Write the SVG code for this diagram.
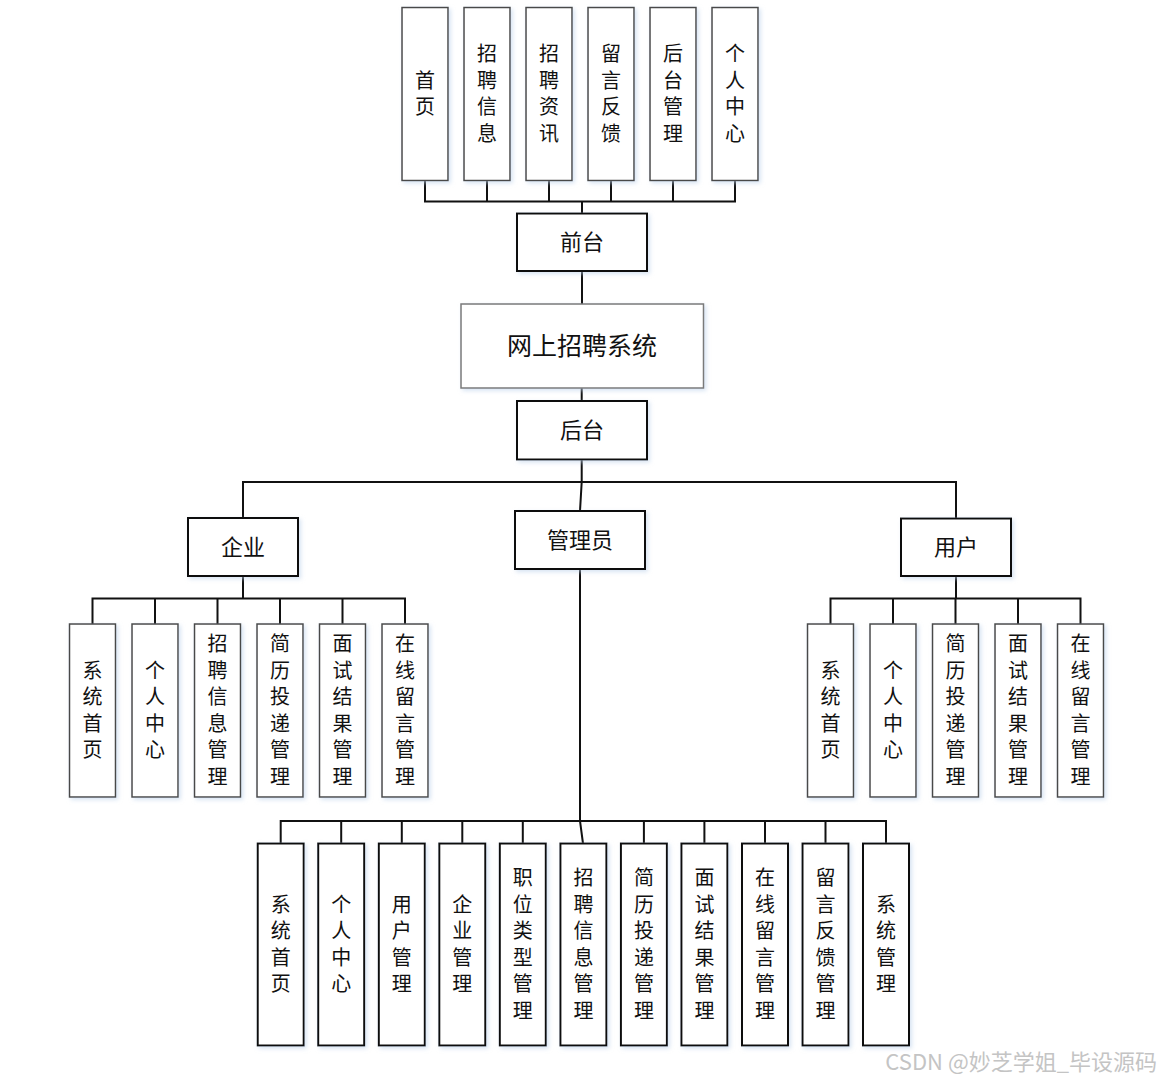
<svg xmlns="http://www.w3.org/2000/svg" width="1161" height="1081" viewBox="0 0 1161 1081">
<defs>
<filter id="sh" x="-20%" y="-20%" width="140%" height="140%">
<feDropShadow dx="2" dy="2" stdDeviation="2" flood-color="#bcd0ea" flood-opacity="0.6"/>
</filter>
</defs>
<style>
rect{fill:#fff;filter:url(#sh)}
.thin{stroke:#4a4a4a;stroke-width:1.5}
.bold{stroke:#111;stroke-width:2}
.main{stroke:#7a7a7a;stroke-width:1.5}
text{font-family:"Noto Sans CJK SC","Noto Sans CJK JP",sans-serif;fill:#111;text-anchor:middle}
.v{font-size:20px}
.h{font-size:22px}
.t{font-size:25px}
#connectors path{fill:none;stroke:#111;stroke-width:2}
.wm{font-size:22px;fill:#c4c4c4;text-anchor:end}
</style>
<g id="connectors">
<path d="M425 180.5V201.5H735V180.5M487 180.5V201.5M549 180.5V201.5M611 180.5V201.5M673 180.5V201.5M582 201.5V213.5"/>
<path d="M582 271V304"/>
<path d="M581.7 388V401"/>
<path d="M581.7 459.5V482L580 511M243 518V482H956V518"/>
<path d="M243 576V598.5M92.5 624V598.5H405V624M155 598.5V624M217.5 598.5V624M280 598.5V624M342.5 598.5V624"/>
<path d="M956 576V598.5M830.5 624V598.5H1080.5V624M893 598.5V624M955.5 598.5V624M1018 598.5V624"/>
<path d="M580 569V821L583 843.5M280.7 843.5V821H886V843.5M341.2 821V843.5M401.8 821V843.5M462.3 821V843.5M522.8 821V843.5M643.9 821V843.5M704.4 821V843.5M765 821V843.5M825.5 821V843.5"/>
</g>
<g id="n-qiantai"><rect class="bold" x="517" y="213.5" width="130" height="57.5"/><text class="h" x="582" y="250">前台</text></g>
<g id="n-system"><rect class="main" x="461" y="304" width="242.5" height="84"/><text class="t" x="582" y="355">网上招聘系统</text></g>
<g id="n-houtai"><rect class="bold" x="517" y="401" width="130" height="58.5"/><text class="h" x="582" y="438">后台</text></g>
<g id="n-qiye"><rect class="bold" x="188" y="518" width="110" height="58"/><text class="h" x="243" y="555">企业</text></g>
<g id="n-admin"><rect class="bold" x="515" y="511" width="130" height="58"/><text class="h" x="580" y="548">管理员</text></g>
<g id="n-yonghu"><rect class="bold" x="901" y="518.5" width="110" height="57.5"/><text class="h" x="956" y="555">用户</text></g>

<g id="f1"><rect class="thin" x="402" y="7.5" width="46" height="173"/><text class="v"><tspan x="425" y="87.75">首</tspan><tspan x="425" dy="26.5">页</tspan></text></g>
<g id="f2"><rect class="thin" x="464" y="7.5" width="46" height="173"/><text class="v"><tspan x="487" y="61.25">招</tspan><tspan x="487" dy="26.5">聘</tspan><tspan x="487" dy="26.5">信</tspan><tspan x="487" dy="26.5">息</tspan></text></g>
<g id="f3"><rect class="thin" x="526" y="7.5" width="46" height="173"/><text class="v"><tspan x="549" y="61.25">招</tspan><tspan x="549" dy="26.5">聘</tspan><tspan x="549" dy="26.5">资</tspan><tspan x="549" dy="26.5">讯</tspan></text></g>
<g id="f4"><rect class="thin" x="588" y="7.5" width="46" height="173"/><text class="v"><tspan x="611" y="61.25">留</tspan><tspan x="611" dy="26.5">言</tspan><tspan x="611" dy="26.5">反</tspan><tspan x="611" dy="26.5">馈</tspan></text></g>
<g id="f5"><rect class="thin" x="650" y="7.5" width="46" height="173"/><text class="v"><tspan x="673" y="61.25">后</tspan><tspan x="673" dy="26.5">台</tspan><tspan x="673" dy="26.5">管</tspan><tspan x="673" dy="26.5">理</tspan></text></g>
<g id="f6"><rect class="thin" x="712" y="7.5" width="46" height="173"/><text class="v"><tspan x="735" y="61.25">个</tspan><tspan x="735" dy="26.5">人</tspan><tspan x="735" dy="26.5">中</tspan><tspan x="735" dy="26.5">心</tspan></text></g>

<g id="e1"><rect class="thin" x="69.5" y="624" width="46" height="173"/><text class="v"><tspan x="92.5" y="677.75">系</tspan><tspan x="92.5" dy="26.5">统</tspan><tspan x="92.5" dy="26.5">首</tspan><tspan x="92.5" dy="26.5">页</tspan></text></g>
<g id="e2"><rect class="thin" x="132" y="624" width="46" height="173"/><text class="v"><tspan x="155" y="677.75">个</tspan><tspan x="155" dy="26.5">人</tspan><tspan x="155" dy="26.5">中</tspan><tspan x="155" dy="26.5">心</tspan></text></g>
<g id="e3"><rect class="thin" x="194.5" y="624" width="46" height="173"/><text class="v"><tspan x="217.5" y="651.25">招</tspan><tspan x="217.5" dy="26.5">聘</tspan><tspan x="217.5" dy="26.5">信</tspan><tspan x="217.5" dy="26.5">息</tspan><tspan x="217.5" dy="26.5">管</tspan><tspan x="217.5" dy="26.5">理</tspan></text></g>
<g id="e4"><rect class="thin" x="257" y="624" width="46" height="173"/><text class="v"><tspan x="280" y="651.25">简</tspan><tspan x="280" dy="26.5">历</tspan><tspan x="280" dy="26.5">投</tspan><tspan x="280" dy="26.5">递</tspan><tspan x="280" dy="26.5">管</tspan><tspan x="280" dy="26.5">理</tspan></text></g>
<g id="e5"><rect class="thin" x="319.5" y="624" width="46" height="173"/><text class="v"><tspan x="342.5" y="651.25">面</tspan><tspan x="342.5" dy="26.5">试</tspan><tspan x="342.5" dy="26.5">结</tspan><tspan x="342.5" dy="26.5">果</tspan><tspan x="342.5" dy="26.5">管</tspan><tspan x="342.5" dy="26.5">理</tspan></text></g>
<g id="e6"><rect class="thin" x="382" y="624" width="46" height="173"/><text class="v"><tspan x="405" y="651.25">在</tspan><tspan x="405" dy="26.5">线</tspan><tspan x="405" dy="26.5">留</tspan><tspan x="405" dy="26.5">言</tspan><tspan x="405" dy="26.5">管</tspan><tspan x="405" dy="26.5">理</tspan></text></g>

<g id="u1"><rect class="thin" x="807.5" y="624" width="46" height="173"/><text class="v"><tspan x="830.5" y="677.75">系</tspan><tspan x="830.5" dy="26.5">统</tspan><tspan x="830.5" dy="26.5">首</tspan><tspan x="830.5" dy="26.5">页</tspan></text></g>
<g id="u2"><rect class="thin" x="870" y="624" width="46" height="173"/><text class="v"><tspan x="893" y="677.75">个</tspan><tspan x="893" dy="26.5">人</tspan><tspan x="893" dy="26.5">中</tspan><tspan x="893" dy="26.5">心</tspan></text></g>
<g id="u3"><rect class="thin" x="932.5" y="624" width="46" height="173"/><text class="v"><tspan x="955.5" y="651.25">简</tspan><tspan x="955.5" dy="26.5">历</tspan><tspan x="955.5" dy="26.5">投</tspan><tspan x="955.5" dy="26.5">递</tspan><tspan x="955.5" dy="26.5">管</tspan><tspan x="955.5" dy="26.5">理</tspan></text></g>
<g id="u4"><rect class="thin" x="995" y="624" width="46" height="173"/><text class="v"><tspan x="1018" y="651.25">面</tspan><tspan x="1018" dy="26.5">试</tspan><tspan x="1018" dy="26.5">结</tspan><tspan x="1018" dy="26.5">果</tspan><tspan x="1018" dy="26.5">管</tspan><tspan x="1018" dy="26.5">理</tspan></text></g>
<g id="u5"><rect class="thin" x="1057.5" y="624" width="46" height="173"/><text class="v"><tspan x="1080.5" y="651.25">在</tspan><tspan x="1080.5" dy="26.5">线</tspan><tspan x="1080.5" dy="26.5">留</tspan><tspan x="1080.5" dy="26.5">言</tspan><tspan x="1080.5" dy="26.5">管</tspan><tspan x="1080.5" dy="26.5">理</tspan></text></g>

<g id="a1"><rect class="bold" x="257.7" y="843.5" width="46" height="202"/><text class="v"><tspan x="280.7" y="911.75">系</tspan><tspan x="280.7" dy="26.5">统</tspan><tspan x="280.7" dy="26.5">首</tspan><tspan x="280.7" dy="26.5">页</tspan></text></g>
<g id="a2"><rect class="bold" x="318.2" y="843.5" width="46" height="202"/><text class="v"><tspan x="341.2" y="911.75">个</tspan><tspan x="341.2" dy="26.5">人</tspan><tspan x="341.2" dy="26.5">中</tspan><tspan x="341.2" dy="26.5">心</tspan></text></g>
<g id="a3"><rect class="bold" x="378.8" y="843.5" width="46" height="202"/><text class="v"><tspan x="401.8" y="911.75">用</tspan><tspan x="401.8" dy="26.5">户</tspan><tspan x="401.8" dy="26.5">管</tspan><tspan x="401.8" dy="26.5">理</tspan></text></g>
<g id="a4"><rect class="bold" x="439.3" y="843.5" width="46" height="202"/><text class="v"><tspan x="462.3" y="911.75">企</tspan><tspan x="462.3" dy="26.5">业</tspan><tspan x="462.3" dy="26.5">管</tspan><tspan x="462.3" dy="26.5">理</tspan></text></g>
<g id="a5"><rect class="bold" x="499.8" y="843.5" width="46" height="202"/><text class="v"><tspan x="522.8" y="885.25">职</tspan><tspan x="522.8" dy="26.5">位</tspan><tspan x="522.8" dy="26.5">类</tspan><tspan x="522.8" dy="26.5">型</tspan><tspan x="522.8" dy="26.5">管</tspan><tspan x="522.8" dy="26.5">理</tspan></text></g>
<g id="a6"><rect class="bold" x="560.4" y="843.5" width="46" height="202"/><text class="v"><tspan x="583.4" y="885.25">招</tspan><tspan x="583.4" dy="26.5">聘</tspan><tspan x="583.4" dy="26.5">信</tspan><tspan x="583.4" dy="26.5">息</tspan><tspan x="583.4" dy="26.5">管</tspan><tspan x="583.4" dy="26.5">理</tspan></text></g>
<g id="a7"><rect class="bold" x="620.9" y="843.5" width="46" height="202"/><text class="v"><tspan x="643.9" y="885.25">简</tspan><tspan x="643.9" dy="26.5">历</tspan><tspan x="643.9" dy="26.5">投</tspan><tspan x="643.9" dy="26.5">递</tspan><tspan x="643.9" dy="26.5">管</tspan><tspan x="643.9" dy="26.5">理</tspan></text></g>
<g id="a8"><rect class="bold" x="681.4" y="843.5" width="46" height="202"/><text class="v"><tspan x="704.4" y="885.25">面</tspan><tspan x="704.4" dy="26.5">试</tspan><tspan x="704.4" dy="26.5">结</tspan><tspan x="704.4" dy="26.5">果</tspan><tspan x="704.4" dy="26.5">管</tspan><tspan x="704.4" dy="26.5">理</tspan></text></g>
<g id="a9"><rect class="bold" x="742" y="843.5" width="46" height="202"/><text class="v"><tspan x="765" y="885.25">在</tspan><tspan x="765" dy="26.5">线</tspan><tspan x="765" dy="26.5">留</tspan><tspan x="765" dy="26.5">言</tspan><tspan x="765" dy="26.5">管</tspan><tspan x="765" dy="26.5">理</tspan></text></g>
<g id="a10"><rect class="bold" x="802.5" y="843.5" width="46" height="202"/><text class="v"><tspan x="825.5" y="885.25">留</tspan><tspan x="825.5" dy="26.5">言</tspan><tspan x="825.5" dy="26.5">反</tspan><tspan x="825.5" dy="26.5">馈</tspan><tspan x="825.5" dy="26.5">管</tspan><tspan x="825.5" dy="26.5">理</tspan></text></g>
<g id="a11"><rect class="bold" x="863" y="843.5" width="46" height="202"/><text class="v"><tspan x="886" y="911.75">系</tspan><tspan x="886" dy="26.5">统</tspan><tspan x="886" dy="26.5">管</tspan><tspan x="886" dy="26.5">理</tspan></text></g>

<text class="wm" x="1157" y="1070">CSDN @妙芝学姐_毕设源码</text>
</svg>
